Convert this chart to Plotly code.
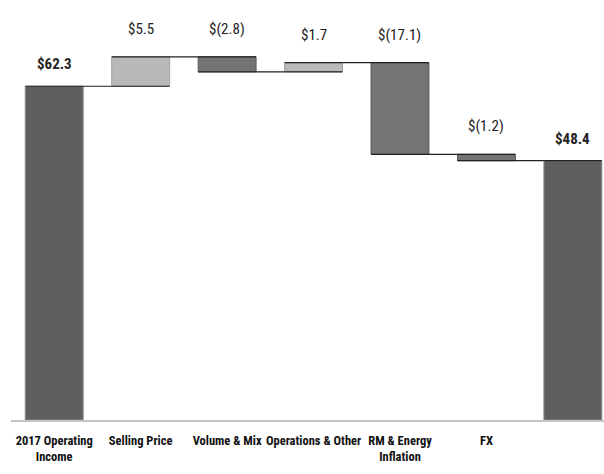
import plotly.graph_objects as go

categories = ["2017 Operating<br>Income", "Selling Price", "Volume & Mix",
              "Operations & Other", "RM & Energy<br>Inflation", "FX",
              "2018 Operating<br>Income"]
values = [62.3, 5.5, -2.8, 1.7, -17.1, -1.2, 48.4]
measures = ["absolute", "relative", "relative", "relative", "relative", "relative", "total"]
labels = ["$62.3", "$5.5", "$(2.8)", "$1.7", "$(17.1)", "$(1.2)", "$48.4"]

FONT = "Roboto Condensed"

fig = go.Figure()
fig.add_trace(go.Waterfall(
    x=list(range(len(categories))), y=values, measure=measures,
    base=0,
    totals=dict(marker=dict(color="#5f5f61", line=dict(color="#8a8a8c", width=1))),
    increasing=dict(marker=dict(color="#b9b9bc", line=dict(color="#a0a0a3", width=1))),
    decreasing=dict(marker=dict(color="#747477", line=dict(color="#5a5a5c", width=1))),
    connector=dict(line=dict(color="#222222", width=1.2), mode="spanning"),
    width=0.67,
    textposition="none",
    hoverinfo="y",
))

# compute bar tops for labels
run = 0.0
tops = []
for v, m in zip(values, measures):
    if m == "absolute":
        start, end = 0, v
        run = v
    elif m == "total":
        start, end = 0, run
    else:
        start, end = run, run + v
        run = run + v
    tops.append(max(start, end))

for i, (t, lab, m) in enumerate(zip(tops, labels, measures)):
    bold = m != "relative"
    fig.add_annotation(
        x=i, y=t, yref="y", xref="x",
        text=f"<b>{lab}</b>" if bold else lab,
        showarrow=False, yanchor="bottom", yshift=11 if bold else 17,
        font=dict(family=FONT, size=15, color="#222222"),
    )

fig.update_layout(
    width=604, height=474,
    margin=dict(l=11, r=0, t=0, b=54),
    plot_bgcolor="white", paper_bgcolor="white",
    showlegend=False,
    font=dict(family=FONT),
)
fig.update_xaxes(
    range=[-0.5, 6.36], automargin=False,
    tickvals=list(range(len(categories))),
    ticktext=[f"<b>{c}</b>" for c in categories],
    tickangle=0,
    showline=True, linecolor="#c4c4c4", linewidth=1.5,
    ticks="", showgrid=False, zeroline=False,
    tickfont=dict(family=FONT, size=12.5, color="#111111"),
    ticklabelstandoff=8,
)
fig.update_yaxes(range=[0, 78.4], visible=False, showgrid=False, automargin=False)

fig.write_html("out.html")
